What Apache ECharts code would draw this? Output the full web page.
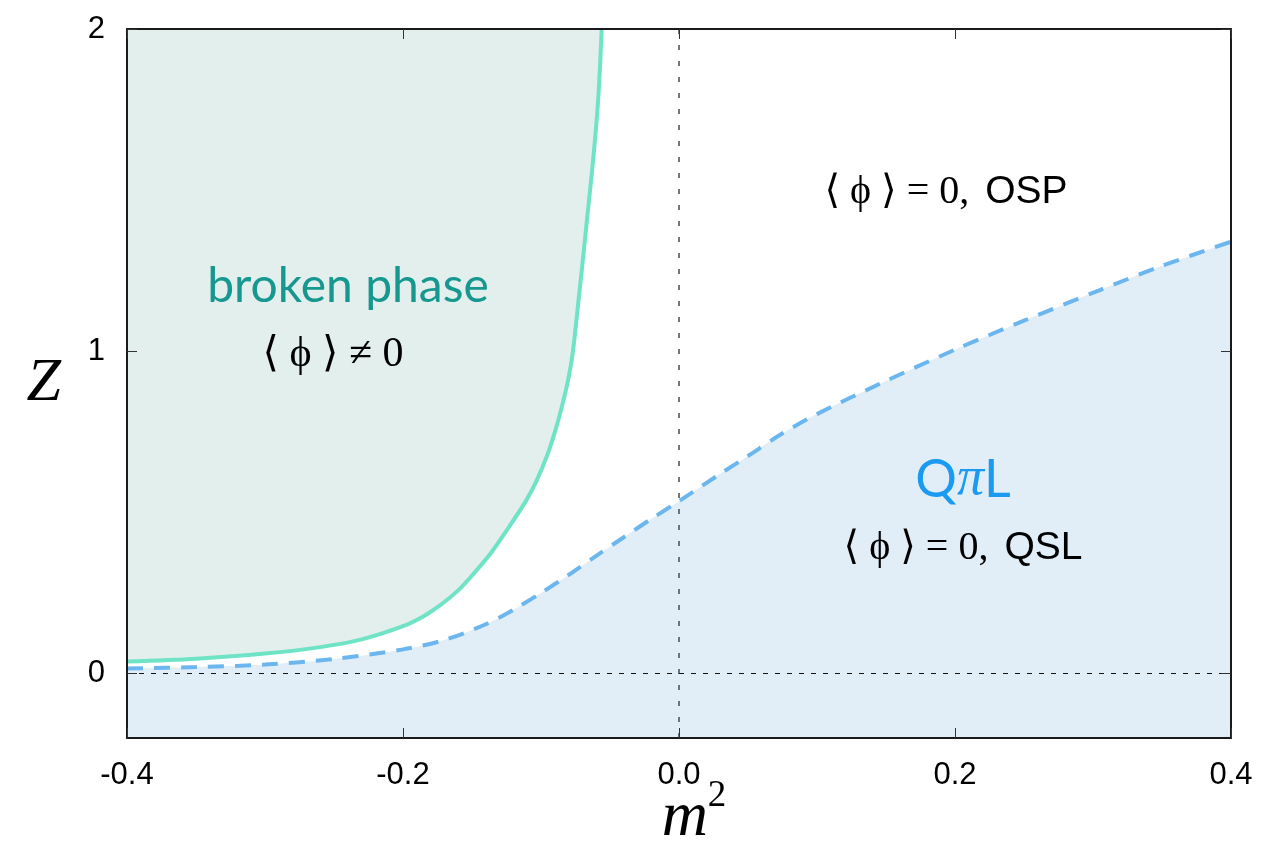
<!DOCTYPE html>
<html>
<head>
<meta charset="utf-8">
<script src="https://cdn.jsdelivr.net/npm/echarts@6/dist/echarts.min.js"></script>
<style>
  html, body { margin: 0; padding: 0; background: #ffffff; }
  #chart { width: 1261px; height: 850px; }
</style>
</head>
<body>
<div id="chart"></div>
<script>
// Phase boundary of the broken phase: [m^2, Z]
const brokenBoundary = [
  [-0.400, 0.037], [-0.350, 0.046], [-0.300, 0.062], [-0.260, 0.082],
  [-0.230, 0.106], [-0.200, 0.147], [-0.185, 0.178], [-0.173, 0.212],
  [-0.160, 0.258], [-0.150, 0.304], [-0.137, 0.370], [-0.124, 0.450],
  [-0.111, 0.535], [-0.103, 0.600], [-0.095, 0.683], [-0.089, 0.763],
  [-0.084, 0.843], [-0.080, 0.918], [-0.077, 0.995], [-0.074, 1.110],
  [-0.070, 1.270], [-0.067, 1.395], [-0.063, 1.560], [-0.060, 1.700],
  [-0.058, 1.820], [-0.056, 2.000]
];

// Boundary of the QπL (quantum spin liquid) region: [m^2, Z]
const qslBoundary = [
  [-0.40, 0.016], [-0.35, 0.020], [-0.30, 0.028], [-0.25, 0.045],
  [-0.20, 0.075], [-0.17, 0.104], [-0.14, 0.153], [-0.12, 0.198],
  [-0.10, 0.250], [-0.08, 0.306], [-0.06, 0.365], [-0.04, 0.423],
  [-0.02, 0.480], [0.00, 0.535], [0.03, 0.620], [0.05, 0.675],
  [0.073, 0.740], [0.10, 0.805], [0.146, 0.900], [0.20, 1.005],
  [0.25, 1.095], [0.305, 1.190], [0.35, 1.265], [0.40, 1.340]
];

const xTicks = [-0.4, -0.2, 0.0, 0.2, 0.4];
const zTicks = [0, 1, 2];
const referenceM2 = 0;
const referenceZ = 0;

const chart = echarts.init(document.getElementById('chart'), null, { renderer: 'canvas' });

const frameLine = { show: true, onZero: false, lineStyle: { color: '#1a1a1a', width: 2 } };
const tick = { show: true, inside: true, length: 10, lineStyle: { color: '#333', width: 1 } };

const serif = 'Liberation Serif, DejaVu Serif, serif';
const sans = 'Liberation Sans, Arial, sans-serif';
const humanist = 'Lato, "Noto Sans", sans-serif';

function tickLabels(values, margin, fmt) {
  return {
    show: true, customValues: values, margin: margin,
    fontFamily: sans, fontSize: 31, color: '#000',
    formatter: fmt
  };
}

function phaseText(x, y, text, rich, extra) {
  return {
    type: 'text', x: x, y: y, z: 100,
    style: Object.assign({ text: text, rich: rich, align: 'center', verticalAlign: 'middle' }, extra || {})
  };
}

const exprRich = {
  s: { fontFamily: serif, fontSize: 40, fill: '#000' },
  n: { fontFamily: serif, fontSize: 42, fill: '#000' },
  h: { fontFamily: sans, fontSize: 39, fill: '#000', padding: [0, 0, 0, 16] }
};

chart.setOption({
  animation: false,
  backgroundColor: '#ffffff',
  grid: { left: 127, right: 30, top: 29, bottom: 112, containLabel: false, outerBoundsMode: 'none' },
  xAxis: [
    {
      type: 'value', min: -0.4, max: 0.4, position: 'bottom', z: 10,
      axisLine: frameLine,
      axisTick: Object.assign({ customValues: xTicks }, tick),
      axisLabel: tickLabels(xTicks, 22, v => v.toFixed(1)),
      splitLine: { show: false },
      name: '{m|m}{p|2}', nameLocation: 'middle', nameGap: 40, nameMoveOverlap: false,
      nameTextStyle: {
        rich: {
          m: { fontFamily: serif, fontStyle: 'italic', fontSize: 64, color: '#000', padding: [0, 0, 0, 30] },
          p: { fontFamily: serif, fontSize: 37, color: '#000', verticalAlign: 'top', padding: [0, 0, 44, 0] }
        }
      }
    },
    {
      type: 'value', min: -0.4, max: 0.4, position: 'top', z: 10,
      axisLine: frameLine,
      axisTick: Object.assign({ customValues: xTicks }, tick),
      axisLabel: { show: false },
      splitLine: { show: false }
    }
  ],
  yAxis: [
    {
      type: 'value', min: -0.2, max: 2, position: 'left', z: 10,
      axisLine: frameLine,
      axisTick: Object.assign({ customValues: zTicks }, tick),
      axisLabel: tickLabels(zTicks, 22),
      splitLine: { show: false },
      name: 'Z', nameLocation: 'middle', nameGap: 66, nameRotate: 0, nameMoveOverlap: false,
      nameTextStyle: { fontFamily: serif, fontStyle: 'italic', fontSize: 62, color: '#000' }
    },
    {
      type: 'value', min: -0.2, max: 2, position: 'right', z: 10,
      axisLine: frameLine,
      axisTick: Object.assign({ customValues: zTicks }, tick),
      axisLabel: { show: false },
      splitLine: { show: false }
    }
  ],
  series: [
    {
      // broken phase: filled from its boundary up to the top of the plot
      name: 'broken phase', type: 'line', data: brokenBoundary,
      smooth: 0.3, showSymbol: false, clip: true, z: 3,
      lineStyle: { color: '#6ee3c6', width: 4 },
      areaStyle: { color: '#e3efec', opacity: 1, origin: 'end' }
    },
    {
      // QπL region: filled from its boundary down to the bottom of the plot
      name: 'QπL', type: 'line', data: qslBoundary,
      smooth: 0.3, showSymbol: false, clip: true, z: 4,
      lineStyle: { color: '#6cb6ef', width: 4, type: [16, 11] },
      areaStyle: { color: '#e1eef8', opacity: 1, origin: 'start' },
      markLine: {
        silent: true, symbol: 'none', label: { show: false },
        data: [
          { xAxis: referenceM2, lineStyle: { color: '#4a4a4a', width: 1.5, type: [5, 11] } },
          { yAxis: referenceZ, lineStyle: { color: '#111', width: 1, type: [5, 7] } }
        ]
      }
    }
  ],
  graphic: [
    phaseText(348, 287, 'broken phase', null, { font: '48px ' + humanist, fill: '#16978f' }),
    phaseText(333, 355, '{n|⟨ ϕ ⟩ ≠ 0}', exprRich),
    phaseText(946, 192, '{s|⟨ ϕ ⟩ = 0,}{h|OSP}', exprRich),
    phaseText(963, 480, '{q|Q}{p|π}{q|L}', {
      q: { fontFamily: humanist, fontSize: 52, fill: '#1a9af1' },
      p: { fontFamily: serif, fontStyle: 'italic', fontSize: 54, fill: '#1a9af1' }
    }),
    phaseText(963, 548, '{s|⟨ ϕ ⟩ = 0,}{h|QSL}', exprRich)
  ]
});
</script>
</body>
</html>
